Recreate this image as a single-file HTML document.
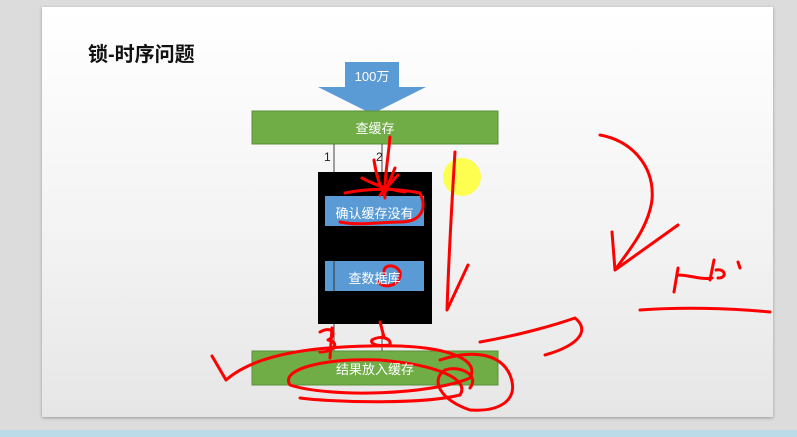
<!DOCTYPE html>
<html><head><meta charset="utf-8"><style>
html,body{margin:0;padding:0;width:797px;height:437px;overflow:hidden;background:#dcdcdc;font-family:"Liberation Sans","Noto Sans CJK SC",sans-serif;}
.slide{position:absolute;left:42px;top:7px;width:731px;height:410px;background:linear-gradient(#ffffff,#f2f2f2 60%,#e6e6e6);box-shadow:0 1px 3px #999;}
.strip{position:absolute;left:0;top:430px;width:797px;height:7px;background:#bcdbe8;}
.t{position:absolute;color:#fff;font-size:13px;text-align:center;}
</style></head><body>
<div class="strip"></div>
<div class="slide"></div>
<div style="position:absolute;left:88px;top:38px;font-size:20px;font-weight:bold;color:#111;">锁-时序问题</div>
<svg width="797" height="437" style="position:absolute;left:0;top:0">
<polygon points="345,62 399,62 399,87 426,87 372,114 318,87 345,87" fill="#5b9bd5"/>
<rect x="252" y="111" width="246" height="33" fill="#70ad47" stroke="#5a8f3a"/>
<line x1="334" y1="144" x2="334" y2="173" stroke="#444"/>
<line x1="382" y1="144" x2="382" y2="173" stroke="#444"/>
<rect x="318" y="172" width="114" height="152" fill="#000"/>
<rect x="325" y="196" width="99" height="30" fill="#5b9bd5"/>
<rect x="325" y="261" width="99" height="30" fill="#5b9bd5"/>
<line x1="334" y1="261" x2="334" y2="291" stroke="#333"/>
<line x1="382" y1="324" x2="382" y2="351" stroke="#444"/>
<line x1="334" y1="324" x2="334" y2="351" stroke="#444"/>
<rect x="252" y="351" width="246" height="34" fill="#70ad47" stroke="#5a8f3a"/>
<text x="324" y="161" font-size="12" fill="#222" font-family="Liberation Sans">1</text>
<text x="376" y="161" font-size="12" fill="#222" font-family="Liberation Sans">2</text>
<circle cx="462" cy="177" r="19" fill="#ffff33" opacity="0.85"/>
<g fill="none" stroke="#f00" stroke-width="3" stroke-linecap="round" stroke-linejoin="round">
<path d="M390,137 C388,160 384,180 385,198"/>
<path d="M374,160 C376,175 380,185 384,195 L395,168"/>
<path d="M362,178 C375,185 390,190 405,192 M398,175 L380,195 M345,193 C370,188 395,188 420,193 C428,210 420,222 400,222 C380,222 360,226 340,222"/>
<path d="M385,275 C380,265 395,262 400,272 C402,285 385,290 378,282"/>
<path d="M455,152 C452,200 449,250 447,310 L468,265"/>
<path d="M320,332 C332,325 338,335 328,340 C340,342 335,352 320,352 M332,328 L330,358"/>
<path d="M380,322 L384,337 M372,340 C380,335 392,338 390,345 C375,347 370,343 372,340"/>
<path d="M212,356 L226,380 C260,350 330,345 400,346 C450,348 480,360 470,378 C430,395 330,398 290,385 C280,370 320,358 380,360 C440,365 470,380 460,395 C420,405 330,402 300,398"/>
<path d="M440,360 C470,350 500,352 510,375 C520,400 500,412 470,410 C440,400 430,380 445,370 C460,365 480,375 470,388"/>
<path d="M480,342 C520,335 555,325 575,318 C590,330 580,345 545,355"/>
<path d="M600,135 C630,140 655,165 652,200 C648,230 625,255 615,270 L612,232 M615,270 L678,225"/>
<path d="M678,268 L674,292 M678,275 C690,275 700,280 712,278 M714,260 L710,280 M716,270 C725,268 728,278 718,278 M738,262 L740,268 M640,310 C680,307 730,308 770,312"/>
</g>
</svg>
<div class="t" style="left:345px;top:66px;width:54px;">100万</div>
<div class="t" style="left:252px;top:118px;width:246px;">查缓存</div>
<div class="t" style="left:325px;top:203px;width:99px;">确认缓存没有</div>
<div class="t" style="left:325px;top:268px;width:99px;">查数据库</div>
<div class="t" style="left:252px;top:359px;width:246px;">结果放入缓存</div>
</body></html>
